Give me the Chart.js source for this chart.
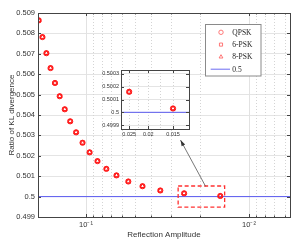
<!DOCTYPE html>
<html lang="en">
<head>
<meta charset="UTF-8">
<title>Ratio of KL divergence</title>
<script src="https://cdn.jsdelivr.net/npm/chart.js"></script>
<style>
  body, html { margin: 0; padding: 0; background: #fff; }
  #wrap { position: relative; width: 297px; height: 247px; }
  #inset { position: absolute; left: 95px; top: 64px; }
</style>
</head>
<body>
<div id="wrap">
  <canvas id="main" width="297" height="247"></canvas>
  <canvas id="inset" width="100" height="82"></canvas>
</div>
<script>
// reflection amplitude (x) and KL ratio per modulation
const amplitudes = [0.195, 0.185, 0.175, 0.165, 0.155, 0.145, 0.135, 0.125, 0.115, 0.105,
                    0.095, 0.085, 0.075, 0.065, 0.055, 0.045, 0.035, 0.025, 0.015];
const ratioQPSK = [0.50864, 0.50782, 0.50703, 0.50630, 0.50557, 0.50492, 0.50428, 0.50369, 0.50315, 0.50264,
                   0.50217, 0.50174, 0.50136, 0.50104, 0.50074, 0.50051, 0.50030, 0.50016, 0.50003];
const ratio6PSK = [0.50864, 0.50782, 0.50703, 0.50630, 0.50557, 0.50492, 0.50428, 0.50369, 0.50315, 0.50264,
                   0.50217, 0.50174, 0.50136, 0.50104, 0.50074, 0.50051, 0.50030, 0.50016, 0.50003];
const ratio8PSK = [0.50864, 0.50782, 0.50703, 0.50630, 0.50557, 0.50492, 0.50428, 0.50369, 0.50315, 0.50264,
                   0.50217, 0.50174, 0.50136, 0.50104, 0.50074, 0.50051, 0.50030, 0.50016, 0.50003];
const seriesNames = ["QPSK", "6-PSK", "8-PSK", "0.5"];
const refLevel = 0.5;

const xMin = 0.0056, xMax = 0.197;
const yTicks = [0.499, 0.5, 0.501, 0.502, 0.503, 0.504, 0.505, 0.506, 0.507, 0.508, 0.509];
const xTicks = [0.1, 0.01];
const xTickLabels = ["10\u207B\u00B9", "10\u207B\u00B2"];
const xMinor = [0.2, 0.09, 0.08, 0.07, 0.06, 0.05, 0.04, 0.03, 0.02, 0.009, 0.008, 0.007, 0.006];

const insetXMin = 0.01245, insetXMax = 0.0275;
const insetYMin = 0.49987, insetYMax = 0.50033;
const insetYTicks = [0.4999, 0.5, 0.5001, 0.5002, 0.5003];
const insetXTicks = [0.025, 0.02, 0.015];
const insetXGrid = [0.025, 0.0225, 0.02, 0.0175, 0.015];

// zoom rectangle and arrow, in data units of the main axes
const zoomBox = { x1: 0.0272, x2: 0.0141, y1: 0.50052, y2: 0.49948 };
const arrowFrom = { x: 0.01845, y: 0.5005 };
const arrowTo = { x: 0.0263, y: 0.50277 };

const RED = "#ff1a1a";
const BLUE = "#5a5af0";
const SANS = "'Liberation Sans', Arial, sans-serif";
const SERIF = "'Liberation Serif', 'Times New Roman', serif";

const pts = arr => amplitudes.map((x, i) => ({ x, y: arr[i] }));

function makeSets(lo, hi) {
  const marker = (name, data, style) => ({
    label: name, data: pts(data), pointStyle: style,
    pointRadius: 2.6, pointBorderWidth: 1, borderColor: RED,
    pointBackgroundColor: "rgba(0,0,0,0)", showLine: false
  });
  return [
    marker(seriesNames[0], ratioQPSK, "circle"),
    marker(seriesNames[1], ratio6PSK, "rect"),
    marker(seriesNames[2], ratio8PSK, "triangle"),
    { label: seriesNames[3], data: [{ x: hi, y: refLevel }, { x: lo, y: refLevel }],
      showLine: true, borderColor: BLUE, borderWidth: 1, pointRadius: 0 }
  ];
}

function vline(ctx, px, top, bottom) {
  ctx.beginPath(); ctx.moveTo(px, top); ctx.lineTo(px, bottom); ctx.stroke();
}

function drawMarker(ctx, style, x, y, r) {
  ctx.beginPath();
  if (style === "circle") ctx.arc(x, y, r, 0, Math.PI * 2);
  else if (style === "rect") { const s = r * Math.SQRT1_2; ctx.rect(x - s, y - s, 2 * s, 2 * s); }
  else {
    ctx.moveTo(x, y - r);
    ctx.lineTo(x + r * 0.866, y + r * 0.5);
    ctx.lineTo(x - r * 0.866, y + r * 0.5);
    ctx.closePath();
  }
  ctx.stroke();
}

function drawFrame(chart, majorX, minorX, yt) {
  const { ctx, chartArea: a, scales: { x, y } } = chart;
  ctx.save();
  ctx.strokeStyle = "#444";
  ctx.lineWidth = 1;
  ctx.strokeRect(Math.round(a.left) + 0.5, Math.round(a.top) + 0.5,
                 Math.round(a.right - a.left), Math.round(a.bottom - a.top));
  yt.forEach(v => {
    const py = Math.round(y.getPixelForValue(v)) + 0.5;
    ctx.beginPath();
    ctx.moveTo(a.left, py); ctx.lineTo(a.left + 3, py);
    ctx.moveTo(a.right, py); ctx.lineTo(a.right - 3, py);
    ctx.stroke();
  });
  const xt = (vals, len) => vals.forEach(v => {
    const px = Math.round(x.getPixelForValue(v)) + 0.5;
    if (px < a.left || px > a.right) return;
    vline(ctx, px, a.bottom, a.bottom - len);
    vline(ctx, px, a.top, a.top + len);
  });
  xt(majorX, 3);
  xt(minorX, 1.5);
  ctx.restore();
}

const mainDecor = {
  id: "mainDecor",
  beforeDatasetsDraw(chart) {
    const { ctx, chartArea: a, scales: { x } } = chart;
    ctx.save();
    ctx.lineWidth = 1;
    ctx.strokeStyle = "#d4d4d4";
    ctx.setLineDash([1, 2]);
    xMinor.forEach(v => {
      const px = Math.round(x.getPixelForValue(v)) + 0.5;
      if (px > a.left + 1 && px < a.right - 1) vline(ctx, px, a.top, a.bottom);
    });
    ctx.setLineDash([]);
    ctx.strokeStyle = "#e2e2e2";
    xTicks.forEach(v => vline(ctx, Math.round(x.getPixelForValue(v)) + 0.5, a.top, a.bottom));
    ctx.restore();
  },
  afterDatasetsDraw(chart) {
    drawFrame(chart, xTicks, xMinor, yTicks);
  },
  afterDraw(chart) {
    const { ctx, scales: { x, y } } = chart;
    ctx.save();
    // dashed zoom rectangle
    ctx.strokeStyle = "#ff3030";
    ctx.lineWidth = 1.3;
    ctx.setLineDash([4, 2.5]);
    const bx1 = x.getPixelForValue(zoomBox.x1), bx2 = x.getPixelForValue(zoomBox.x2);
    const by1 = y.getPixelForValue(zoomBox.y1), by2 = y.getPixelForValue(zoomBox.y2);
    ctx.strokeRect(bx1, by1, bx2 - bx1, by2 - by1);
    ctx.setLineDash([]);
    // arrow to the inset
    const ax1 = x.getPixelForValue(arrowFrom.x), ay1 = y.getPixelForValue(arrowFrom.y);
    const ax2 = x.getPixelForValue(arrowTo.x), ay2 = y.getPixelForValue(arrowTo.y);
    ctx.strokeStyle = "#555";
    ctx.fillStyle = "#333";
    ctx.lineWidth = 0.8;
    ctx.beginPath(); ctx.moveTo(ax1, ay1); ctx.lineTo(ax2, ay2); ctx.stroke();
    const ang = Math.atan2(ay2 - ay1, ax2 - ax1);
    ctx.beginPath();
    ctx.moveTo(ax2, ay2);
    ctx.lineTo(ax2 - 6 * Math.cos(ang) + 2 * Math.sin(ang), ay2 - 6 * Math.sin(ang) - 2 * Math.cos(ang));
    ctx.lineTo(ax2 - 6 * Math.cos(ang) - 2 * Math.sin(ang), ay2 - 6 * Math.sin(ang) + 2 * Math.cos(ang));
    ctx.closePath(); ctx.fill();
    // legend box
    const L = { left: 205.5, top: 24.5, w: 55.5, h: 51.5 };
    ctx.fillStyle = "#fff";
    ctx.fillRect(L.left, L.top, L.w, L.h);
    ctx.strokeStyle = "#8a8a8a";
    ctx.lineWidth = 1;
    ctx.strokeRect(L.left, L.top, L.w, L.h);
    ctx.font = "7.5px " + SERIF;
    ctx.textBaseline = "middle";
    chart.data.datasets.forEach((ds, i) => {
      const ry = 32.3 + i * 12.3;
      if (ds.showLine) {
        ctx.strokeStyle = BLUE;
        ctx.beginPath(); ctx.moveTo(210.7, ry); ctx.lineTo(230, ry); ctx.stroke();
      } else {
        ctx.strokeStyle = "#ff6a6a";
        ctx.lineWidth = 0.9;
        drawMarker(ctx, ds.pointStyle, 221, ry, 2.2);
      }
      ctx.fillStyle = "#222";
      ctx.fillText(ds.label, 232.3, ry + 0.5);
    });
    ctx.restore();
  }
};

new Chart(document.getElementById("main").getContext("2d"), {
  type: "scatter",
  data: { datasets: makeSets(xMin, xMax) },
  options: {
    responsive: false,
    animation: false,
    layout: { padding: { top: 13, right: 7, left: 0, bottom: 0 } },
    plugins: { legend: { display: false }, tooltip: { enabled: false } },
    scales: {
      x: {
        type: "logarithmic", reverse: true, min: xMin, max: xMax,
        afterBuildTicks: s => { s.ticks = xTicks.map(v => ({ value: v })); },
        afterFit: s => { s.height = 30; },
        grid: { display: false, drawTicks: false },
        border: { display: false },
        ticks: {
          autoSkip: false, maxRotation: 0, padding: 3, color: "#333",
          font: { family: SANS, size: 7.5 },
          callback: v => xTickLabels[xTicks.indexOf(v)] || ""
        },
        title: { display: true, text: "Reflection Amplitude", color: "#333",
                 font: { family: SANS, size: 8 }, padding: { top: 0, bottom: 7 } }
      },
      y: {
        min: 0.499, max: 0.509,
        afterBuildTicks: s => { s.ticks = yTicks.map(v => ({ value: v })); },
        afterFit: s => { s.width = 38; },
        grid: { color: "#e4e4e4", drawTicks: false },
        border: { display: false },
        ticks: {
          padding: 3, color: "#333", font: { family: SANS, size: 7.5 },
          callback: v => String(parseFloat(v.toFixed(3)))
        },
        title: { display: true, text: "Ratio of KL divergence", color: "#333",
                 font: { family: SANS, size: 8 }, padding: { top: 7, bottom: 0 } }
      }
    }
  },
  plugins: [mainDecor]
});

// inset: zoom on the two smallest amplitudes
const insetDecor = {
  id: "insetDecor",
  beforeDraw(chart) {
    const { ctx, chartArea: a } = chart;
    ctx.save();
    ctx.fillStyle = "#fff";
    ctx.fillRect(a.left, a.top, a.right - a.left, a.bottom - a.top);
    ctx.restore();
  },
  beforeDatasetsDraw(chart) {
    const { ctx, chartArea: a, scales: { x } } = chart;
    ctx.save();
    ctx.strokeStyle = "#d4d4d4";
    ctx.lineWidth = 1;
    ctx.setLineDash([1, 2]);
    insetXGrid.forEach(v => vline(ctx, Math.round(x.getPixelForValue(v)) + 0.5, a.top, a.bottom));
    ctx.restore();
  },
  afterDatasetsDraw(chart) {
    drawFrame(chart, insetXTicks, [], insetYTicks);
  }
};

new Chart(document.getElementById("inset").getContext("2d"), {
  type: "scatter",
  data: { datasets: makeSets(insetXMin, insetXMax) },
  options: {
    responsive: false,
    animation: false,
    layout: { padding: { top: 6, right: 6, left: 0, bottom: 0 } },
    plugins: { legend: { display: false }, tooltip: { enabled: false } },
    scales: {
      x: {
        type: "logarithmic", reverse: true, min: insetXMin, max: insetXMax,
        afterBuildTicks: s => { s.ticks = insetXTicks.map(v => ({ value: v })); },
        afterFit: s => { s.height = 17; },
        grid: { display: false, drawTicks: false },
        border: { display: false },
        ticks: {
          autoSkip: false, maxRotation: 0, padding: 2.5, color: "#333",
          font: { family: SANS, size: 5.5 },
          callback: v => String(parseFloat(v.toFixed(3)))
        }
      },
      y: {
        min: insetYMin, max: insetYMax,
        afterBuildTicks: s => { s.ticks = insetYTicks.map(v => ({ value: v })); },
        afterFit: s => { s.width = 26; },
        grid: { color: "#e4e4e4", drawTicks: false },
        border: { display: false },
        ticks: {
          padding: 2, color: "#333", font: { family: SANS, size: 5.5 },
          callback: v => String(parseFloat(v.toFixed(4)))
        }
      }
    }
  },
  plugins: [insetDecor]
});
</script>
</body>
</html>
